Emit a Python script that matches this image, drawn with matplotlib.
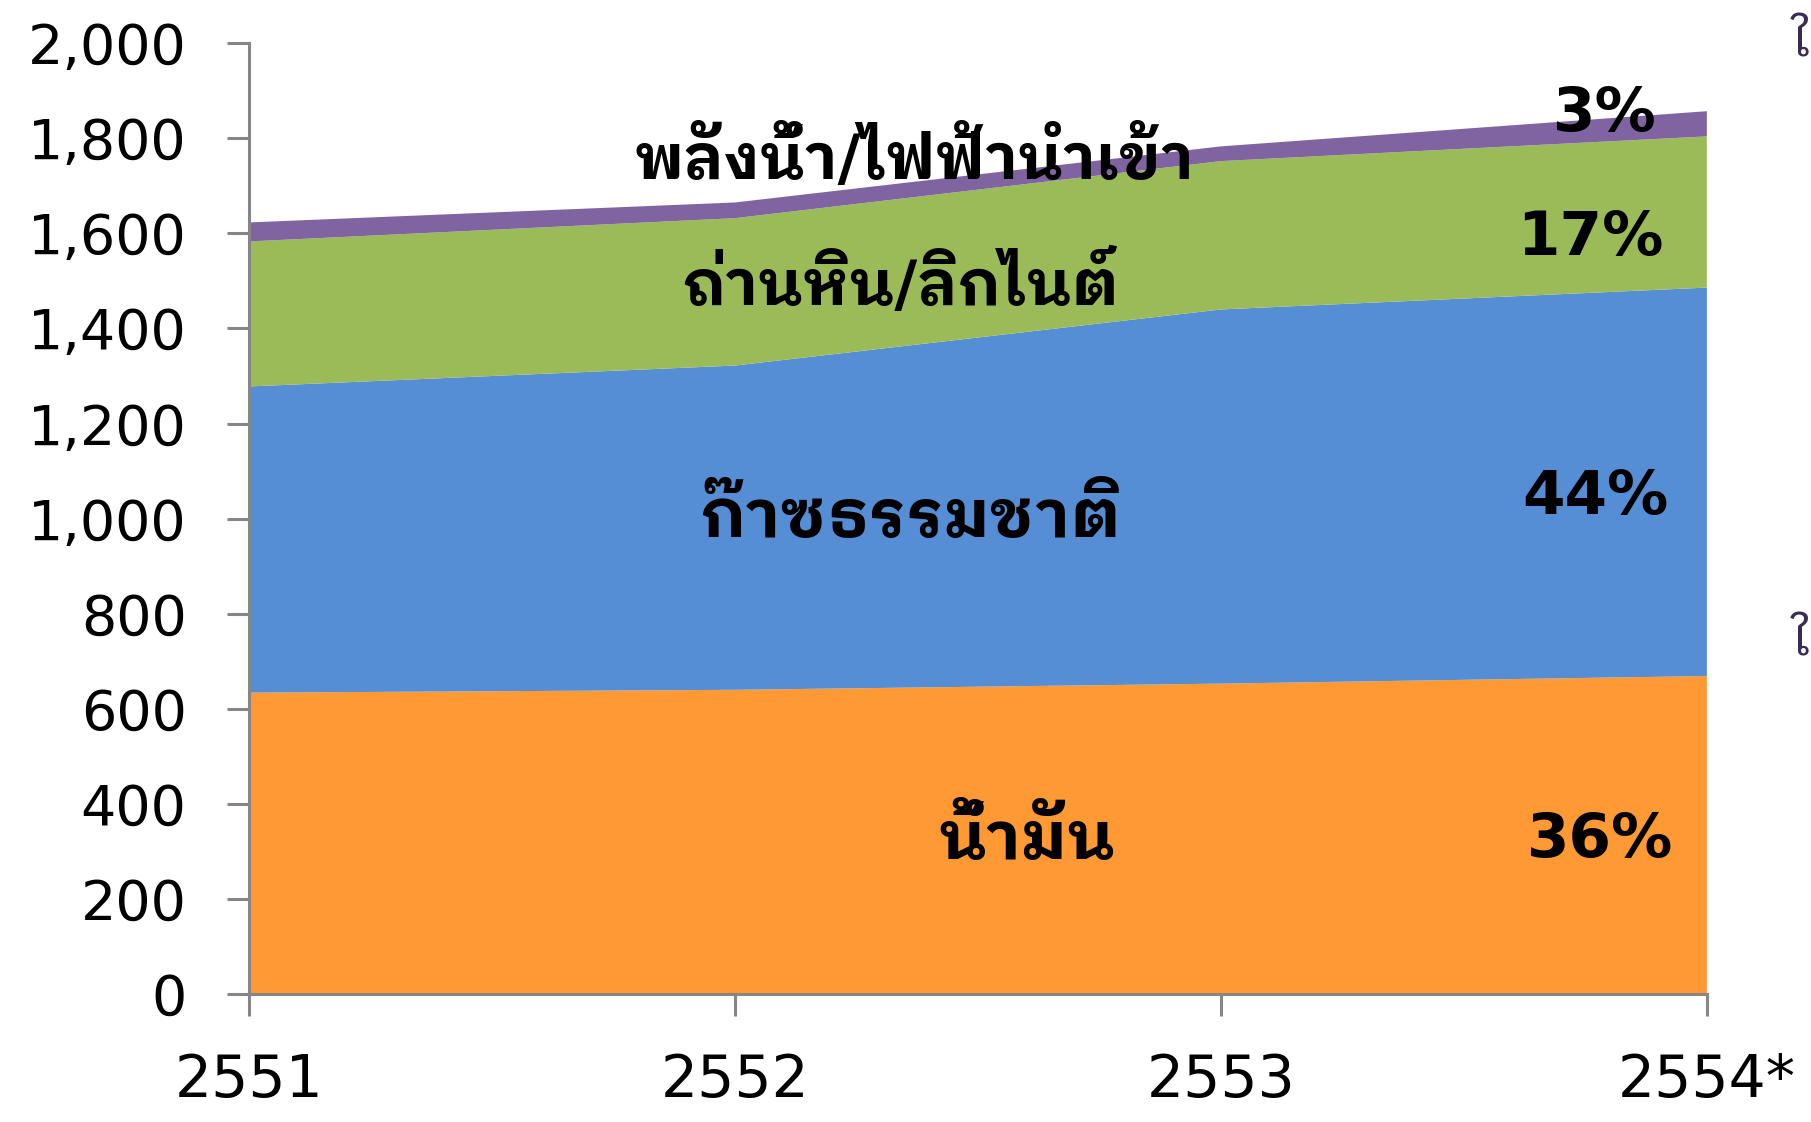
import matplotlib
matplotlib.use("Agg")
from matplotlib import pyplot as plt

# energy use by source
years = ["2551", "2552", "2553", "2554*"]
oil = [634, 640, 653, 669]
gas = [644, 682, 787, 817]
coal = [305, 310, 312, 318]
hydro = [40, 33, 31, 53]

colors = ["#FF9933", "#558ED5", "#9BBB59", "#8064A2"]
names = ["น้ำมัน", "ก๊าซธรรมชาติ", "ถ่านหิน/ลิกไนต์", "พลังน้ำ/ไฟฟ้านำเข้า"]
shares = ["36%", "44%", "17%", "3%"]

thai = ["DejaVu Sans", "IBM Plex Sans Thai Looped"]
plt.rcParams["font.family"] = thai

fig = plt.figure(figsize=(18.11, 11.22), dpi=100)
ax = fig.add_axes([0.1375, 0.114, 0.805, 0.8475])

x = list(range(len(years)))
ax.stackplot(x, oil, gas, coal, hydro, colors=colors, linewidth=0)

ax.set_xlim(0, 3)
ax.set_ylim(0, 2000)
ax.set_xticks(x)
ax.set_xticklabels(years)
ax.set_yticks(range(0, 2001, 200))
ax.set_yticklabels(["{:,}".format(v) for v in range(0, 2001, 200)])

for s in ["top", "right"]:
    ax.spines[s].set_visible(False)
for s in ["left", "bottom"]:
    ax.spines[s].set_color("#868686")
    ax.spines[s].set_linewidth(2.2)
ax.tick_params(axis="y", direction="out", length=16, width=2.2, color="#868686",
               labelsize=40, pad=29)
ax.tick_params(axis="x", direction="out", length=16, width=2.2, color="#868686",
               labelsize=42, pad=26)

# series names inside the areas
ax.text(1.37, 1755, names[3], fontsize=45, fontweight="bold", ha="center", va="center")
ax.text(1.34, 1492, names[2], fontsize=45, fontweight="bold", ha="center", va="center")
ax.text(1.36, 1002, names[1], fontsize=48, fontweight="bold", ha="center", va="center")
ax.text(1.6, 325, names[0], fontsize=48, fontweight="bold", ha="center", va="center")

# shares for the last year
ax.text(2.79, 1850, shares[3], fontsize=44, fontweight="bold", ha="center", va="center")
ax.text(2.76, 1590, shares[2], fontsize=44, fontweight="bold", ha="center", va="center")
ax.text(2.77, 1045, shares[1], fontsize=44, fontweight="bold", ha="center", va="center")
ax.text(2.78, 322, shares[0], fontsize=44, fontweight="bold", ha="center", va="center")

# cut-off text at the right edge of the original slide
fig.text(0.989, 0.962, "ใ", fontsize=36, color="#3a2a55", ha="left", va="center")
fig.text(0.989, 0.428, "ใ", fontsize=36, color="#3a2a55", ha="left", va="center")

fig.savefig("out.png", dpi=100)
